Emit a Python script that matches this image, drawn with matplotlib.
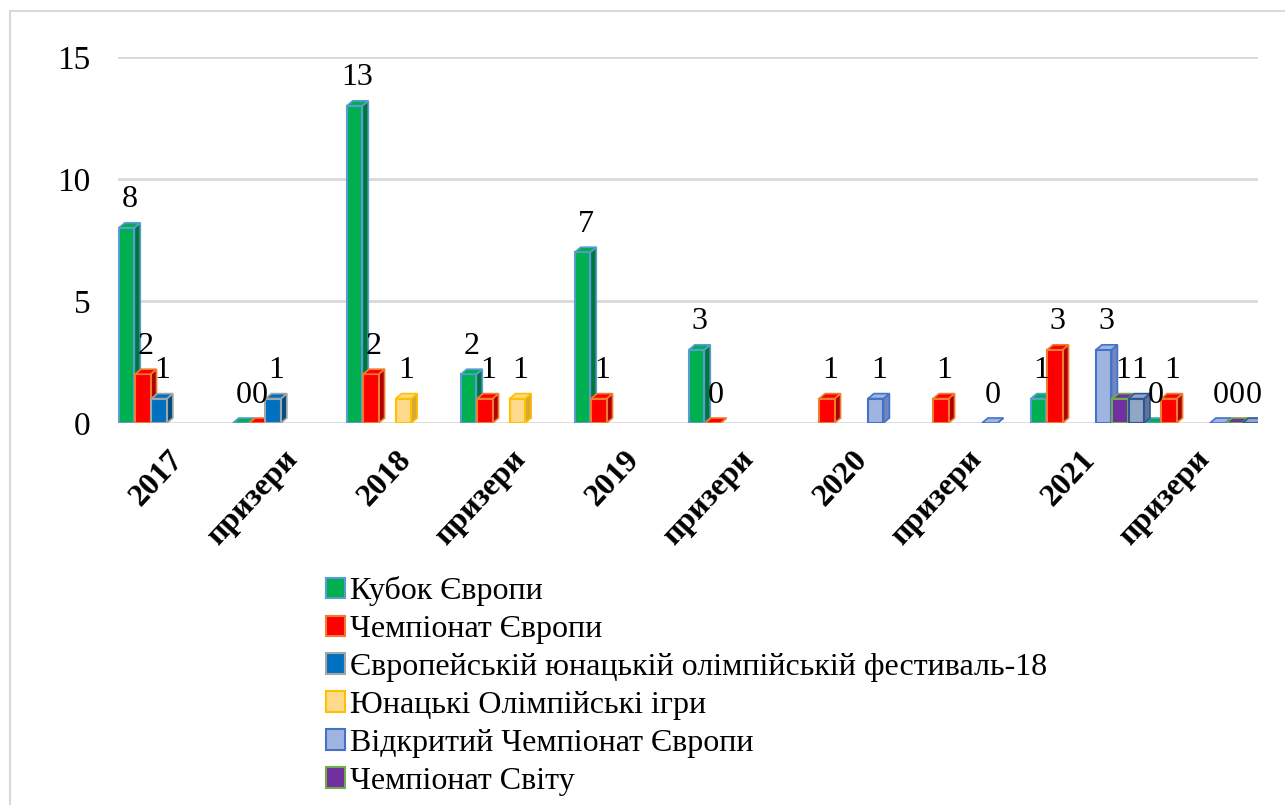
import numpy as np
import matplotlib
matplotlib.use("Agg")
import matplotlib.pyplot as plt
from matplotlib.patches import Polygon, Patch, Rectangle
from matplotlib.transforms import ScaledTranslation

plt.rcParams['font.family'] = ['Liberation Serif', 'DejaVu Serif']

categories = ["2017", "призери", "2018", "призери", "2019", "призери",
              "2020", "призери", "2021", "призери"]
nan = np.nan
series_names = ["Кубок Європи", "Чемпіонат Європи",
                "Європейській юнацькій олімпійській фестиваль-18",
                "Юнацькі Олімпійські ігри", "Відкритий Чемпіонат Європи",
                "Чемпіонат Світу", ""]
kubok = [8, 0, 13, 2, 7, 3, nan, nan, 1, 0]
champ_eu = [2, 0, 2, 1, 1, 0, 1, 1, 3, 1]
eyof = [1, 1, nan, nan, nan, nan, nan, nan, nan, nan]
yog = [nan, nan, 1, 1, nan, nan, nan, nan, nan, nan]
open_eu = [nan, nan, nan, nan, nan, nan, 1, 0, 3, 0]
world = [nan, nan, nan, nan, nan, nan, nan, nan, 1, 0]
extra = [nan, nan, nan, nan, nan, nan, nan, nan, 1, 0]
series = [kubok, champ_eu, eyof, yog, open_eu, world, extra]

face = ["#00B050", "#FF0000", "#0070C0", "#FFD98C", "#A0B4E2", "#7030A0", "#8FA6C4"]
side = ["#00773A", "#B00000", "#004E88", "#D9A832", "#6F86BF", "#4E2070", "#5F7496"]
edge = ["#5B9BD5", "#ED7D31", "#A5A5A5", "#FFC000", "#4472C4", "#70AD47", "#2F5597"]

W, H = 1285, 805
fig = plt.figure(figsize=(W / 100, H / 100), dpi=100)
ax_l, ax_r, ax_b, ax_t = 118, 1258, 423, 57
ax = fig.add_axes([ax_l / W, 1 - ax_b / H, (ax_r - ax_l) / W, (ax_b - ax_t) / H])

ncat = len(categories)
nser = len(series)
ax.set_xlim(-0.5, ncat - 0.5)
ax.set_ylim(0, 15)

# depth in data units
px_x = (ax_r - ax_l) / ncat          # px per category
px_y = (ax_b - ax_t) / 15.0          # px per unit
dx = 6 / px_x
dy = 5 / px_y
slot = 1.0 / nser
bw = slot * 0.95

x = np.arange(ncat)
for j, vals in enumerate(series):
    vals = np.asarray(vals, dtype=float)
    xs = x - 0.5 + slot * (j + 0.05)
    mask = ~np.isnan(vals)
    z = 3 + j
    ax.bar(xs[mask], vals[mask], width=bw, align='edge', color=face[j],
           edgecolor=edge[j], linewidth=1.5, zorder=z + 0.2)
    for xi, v in zip(xs[mask], vals[mask]):
        x0, x1 = xi, xi + bw
        sidep = Polygon([(x1, 0), (x1 + dx, dy), (x1 + dx, v + dy), (x1, v)],
                        closed=True, facecolor=side[j], edgecolor=edge[j],
                        linewidth=1.2, zorder=z + 0.1)
        topp = Polygon([(x0, v), (x1, v), (x1 + dx, v + dy), (x0 + dx, v + dy)],
                       closed=True, facecolor=face[j], edgecolor=edge[j],
                       linewidth=1.2, zorder=z + 0.3)
        ax.add_patch(sidep)
        ax.add_patch(topp)
        ax.annotate(f"{int(v)}", (x0 + (bw + dx) / 2, v + dy), xytext=(0, 6),
                    textcoords='offset points', ha='center', va='bottom',
                    fontsize=23, color='black', zorder=20)

ax.set_yticks([0, 5, 10, 15])
ax.tick_params(axis='y', length=0, pad=20, labelsize=24)
ax.set_xticks(x)
ax.set_xticklabels(categories, rotation=47, ha='right', va='top',
                   rotation_mode='anchor', fontsize=23, fontweight='bold')
ax.tick_params(axis='x', length=0, pad=16)
shift = ScaledTranslation(-7 / 100, 0, fig.dpi_scale_trans)
for lab in ax.get_xticklabels():
    lab.set_transform(lab.get_transform() + shift)
for s in ax.spines.values():
    s.set_visible(False)
ax.yaxis.grid(True, color="#D9D9D9", linewidth=2)
ax.set_axisbelow(True)

# outer chart border (left and top visible)
fig.patches.append(Rectangle((10 / W, -0.2), 1.5, 1.2 - 11 / H,
                             transform=fig.transFigure, fill=False,
                             edgecolor="#D9D9D9", linewidth=1.5))

handles = [Patch(facecolor=face[j], edgecolor=edge[j], linewidth=1.5)
           for j in range(6)]
fig.legend(handles, series_names[:6], loc='upper left',
           bbox_to_anchor=(326 / W, 1 - 576 / H), frameon=False,
           fontsize=23, handlelength=0.6, handleheight=0.6,
           handletextpad=0.15, labelspacing=0.28, borderpad=0, borderaxespad=0)

fig.savefig("out.png", dpi=100)
